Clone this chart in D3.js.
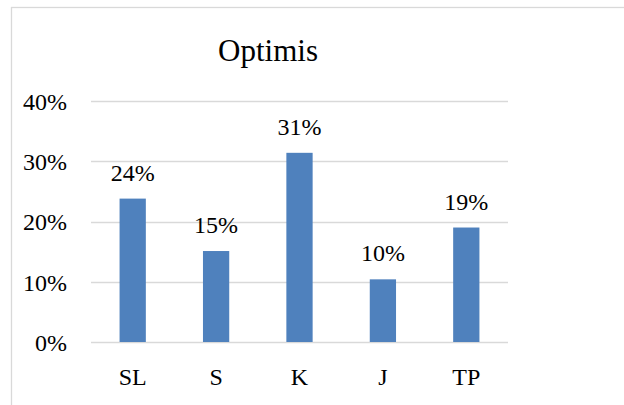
<!DOCTYPE html>
<html>
<head>
<meta charset="utf-8">
<script src="https://cdn.jsdelivr.net/npm/d3@7"></script>
<style>
  body { margin: 0; background: white; }
</style>
</head>
<body>
<div id="canvas"></div>
<script>
"use strict"

let categories = ["SL", "S", "K", "J", "TP"];
let values = [0.238, 0.151, 0.314, 0.104, 0.190];
let valueLabels = ["24%", "15%", "31%", "10%", "19%"];
let yTicks = [0, 0.1, 0.2, 0.3, 0.4];
let chartTitle = "Optimis";

let serifFont = "'Liberation Serif', 'DejaVu Serif', serif";

let drawingWidth = 624;
let drawingHeight = 405;

let plotLeft = 91;
let plotRight = 508;
let plotTop = 101;
let plotBottom = 342;

let drawing = d3.select("#canvas")
    .append("svg")
    .attr("width", drawingWidth)
    .attr("height", drawingHeight)
    .style("font-family", serifFont);

// chart frame, runs off the right and bottom edges
drawing.append("rect")
    .attr("x", 11.5)
    .attr("y", 7.5)
    .attr("width", 700)
    .attr("height", 500)
    .attr("fill", "white")
    .attr("stroke", "#d9d9d9")
    .attr("stroke-width", 1.3);

let x = d3.scaleBand()
    .domain(categories)
    .range([plotLeft, plotRight])
    .paddingInner(0.685)
    .paddingOuter(0.3425);

let y = d3.scaleLinear()
    .domain([0, 0.4])
    .range([plotBottom, plotTop]);

// gridlines
drawing.append("g")
    .selectAll("line")
    .data(yTicks)
    .join("line")
    .attr("x1", plotLeft)
    .attr("x2", plotRight)
    .attr("y1", d => Math.round(y(d)) + 0.5)
    .attr("y2", d => Math.round(y(d)) + 0.5)
    .attr("stroke", "#d9d9d9")
    .attr("stroke-width", 1.3);

// y axis labels
let yAxis = d3.axisLeft(y)
    .tickValues(yTicks)
    .tickFormat(d3.format(".0%"))
    .tickSize(0)
    .tickPadding(24);

let yAxisGroup = drawing.append("g")
    .attr("transform", `translate(${plotLeft},0)`)
    .call(yAxis);
yAxisGroup.select(".domain").remove();
yAxisGroup.selectAll("text")
    .style("font-family", serifFont)
    .style("font-size", "24px")
    .attr("fill", "black")
    .attr("dy", "0.35em");

// x axis labels
let xAxis = d3.axisBottom(x)
    .tickSize(0)
    .tickPadding(26);

let xAxisGroup = drawing.append("g")
    .attr("transform", `translate(0,${plotBottom})`)
    .call(xAxis);
xAxisGroup.select(".domain").remove();
xAxisGroup.selectAll("text")
    .style("font-family", serifFont)
    .style("font-size", "24px")
    .attr("fill", "black");

// bars
drawing.append("g")
    .selectAll("rect")
    .data(values)
    .join("rect")
    .attr("x", (d, i) => x(categories[i]))
    .attr("y", d => y(d))
    .attr("width", x.bandwidth())
    .attr("height", d => plotBottom - y(d))
    .attr("fill", "#4f81bd");

// value labels
drawing.append("g")
    .selectAll("text")
    .data(values)
    .join("text")
    .attr("x", (d, i) => x(categories[i]) + x.bandwidth() / 2)
    .attr("y", d => y(d) - 18)
    .attr("text-anchor", "middle")
    .style("font-family", serifFont)
    .style("font-size", "24px")
    .text((d, i) => valueLabels[i]);

// title
drawing.append("text")
    .attr("x", 268)
    .attr("y", 61)
    .attr("text-anchor", "middle")
    .style("font-family", serifFont)
    .style("font-size", "31px")
    .text(chartTitle);
</script>
</body>
</html>
